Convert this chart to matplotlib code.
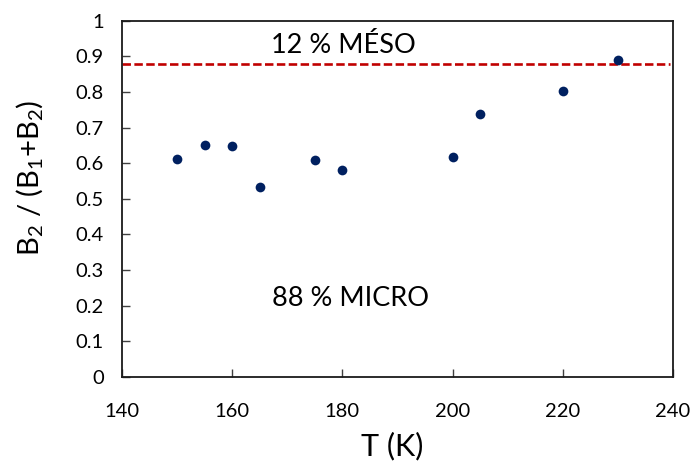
import matplotlib.pyplot as plt

plt.rcParams['font.family'] = ['Lato', 'DejaVu Sans']
plt.rcParams['mathtext.default'] = 'regular'

# temperature (K) and B2/(B1+B2) ratio
temps = [150, 155, 160, 165, 175, 180, 200, 205, 220, 230]
ratio = [0.612, 0.652, 0.649, 0.534, 0.610, 0.581, 0.618, 0.739, 0.803, 0.890]
meso_level = 0.879

fig = plt.figure(figsize=(6.97, 4.63), dpi=100)
ax = fig.add_axes([0.175, 0.186, 0.7905, 0.769])

ax.plot(temps, ratio, 'o', color='#002060', ms=7, mec='none', zorder=3)
ax.plot([140, 239.5], [meso_level, meso_level], color='#C00000', lw=1.9,
        dashes=(3.2, 1.3), zorder=2)

ax.text(180.1, 0.93, '12 % MÉSO', fontsize=19.5, ha='center', va='center')
ax.text(181.4, 0.22, '88 % MICRO', fontsize=19.5, ha='center', va='center')

ax.set_xlim(140, 240)
ax.set_ylim(0, 1)
ax.set_xticks([140, 160, 180, 200, 220, 240])
ax.set_yticks([i / 10 for i in range(11)])
ax.set_yticklabels(['0', '0.1', '0.2', '0.3', '0.4', '0.5', '0.6', '0.7', '0.8', '0.9', '1'])
ax.tick_params(direction='in', length=6, width=1, labelsize=14.5, color='#404040')
ax.tick_params(axis='x', pad=19)
ax.tick_params(axis='y', pad=13)

for s in ax.spines.values():
    s.set_linewidth(1.3)
    s.set_color('#1a1a1a')

ax.set_xlabel('T (K)', fontsize=22)
ax.set_ylabel(r'B$_2$ / (B$_1$+B$_2$)', fontsize=21)
ax.xaxis.set_label_coords(0.49, -0.154)
ax.yaxis.set_label_coords(-0.14, 0.56)

fig.savefig('out.png', dpi=100)
